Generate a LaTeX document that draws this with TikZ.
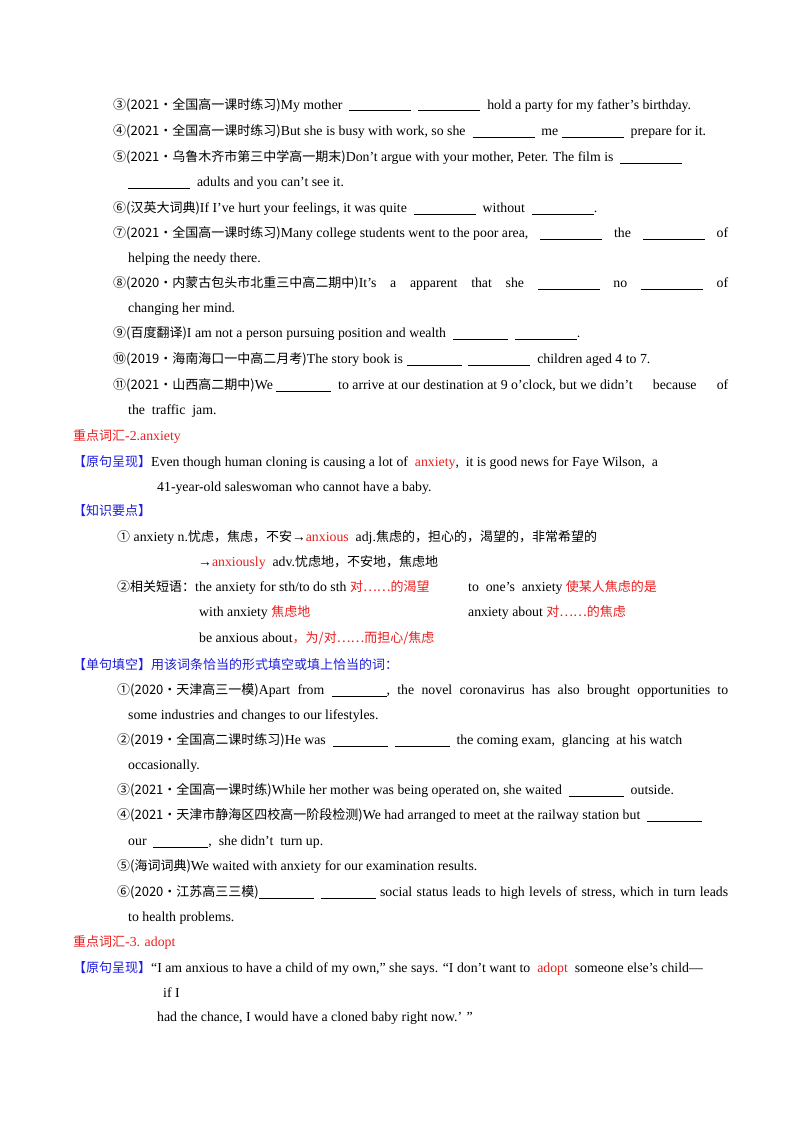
\documentclass[tikz,border=0pt]{standalone}
\usepackage{fontspec}
\setmainfont{Liberation Serif}
\newfontfamily\cjk{Noto Sans CJK SC}
\definecolor{myred}{RGB}{235,30,30}
\definecolor{myblue}{RGB}{30,30,220}
\newcommand{\bl}[1]{\rule[-2pt]{#1pt}{0.5pt}}
\newcommand{\zh}[1]{{\cjk\fontsize{13}{15}\selectfont #1}}
\newcommand{\rd}[1]{\textcolor{myred}{#1}}
\tikzset{ln/.style={anchor=base west,inner sep=0pt,font=\fontsize{13.8}{15}\selectfont}}
\begin{document}
\begin{tikzpicture}[x=1pt,y=-1pt]
\useasboundingbox[fill=white] (0,0) rectangle (800,1132);
\node[ln] (l1) at (113,109) {\zh{③(2021·全国高一课时练习)}My mother \ \bl{62}\ \ \bl{62}\ \ hold a party for my father’s birthday.};
\node[ln] (l2) at (113,135) {\zh{④(2021·全国高一课时练习)}But she is busy with work, so she \ \bl{62}\ \ me \bl{62}\ \ prepare for it.};
\node[ln] (l3) at (113,161) {\zh{⑤(2021·乌鲁木齐市第三中学高一期末)}Don’t argue with your mother, Peter. The film is \ \bl{62}};
\node[ln] (l4) at (128,186) {\bl{62}\ \ adults and you can’t see it.};
\node[ln] (l5) at (113,212) {\zh{⑥(汉英大词典)}If I’ve hurt your feelings, it was quite \ \bl{62}\ \ without \ \bl{62}.};
\node[ln] (l6) at (113,237) {\makebox[615pt][s]{\zh{⑦(2021·全国高一课时练习)}Many college students went to the poor area,\hfill \bl{62}\hfill the\hfill \bl{62}\hfill of}};
\node[ln] (l7) at (128,262) {helping the needy there.};
\node[ln] (l8) at (113,287) {\makebox[615pt][s]{\zh{⑧(2020·内蒙古包头市北重三中高二期中)}It’s\hfill a\hfill apparent\hfill that\hfill she\hfill \bl{62}\hfill no\hfill \bl{62}\hfill of}};
\node[ln] (l9) at (128,312) {changing her mind.};
\node[ln] (l10) at (113,337) {\zh{⑨(百度翻译)}I am not a person pursuing position and wealth \ \bl{55}\ \ \bl{62}.};
\node[ln] (l11) at (113,363) {\zh{⑩(2019·海南海口一中高二月考)}The story book is \bl{55}\ \ \bl{62}\ \ children aged 4 to 7.};
\node[ln] (l12) at (113,389) {\makebox[615pt][s]{\zh{⑪(2021·山西高二期中)}We \bl{55}\ \ to arrive at our destination at 9 o’clock, but we didn’t\hfill because\hfill of}};
\node[ln] (l13) at (128,414) {the\ \ traffic\ \ jam.};
\node[ln,text=myred] (h2) at (73,440) {\zh{重点词汇}-2.anxiety};
\node[ln] (l14) at (73,466) {\textcolor{myblue}{\zh{【原句呈现】}}Even though human cloning is causing a lot of \ \rd{anxiety}, \ it is good news for Faye Wilson, \ a};
\node[ln] (l15) at (157,491) {41-year-old saleswoman who cannot have a baby.};
\node[ln,text=myblue] (l16) at (73,515) {\zh{【知识要点】}};
\node[ln] (l17) at (117,541) {\zh{①} anxiety n.\zh{忧虑，焦虑，不安}→\rd{anxious}\ \ adj.\zh{焦虑的，担心的，渴望的，非常希望的}};
\node[ln] (l18) at (198,566) {→\rd{anxiously}\ \ adv.\zh{忧虑地，不安地，焦虑地}};
\node[ln] (l19) at (117,591) {\zh{②相关短语：}the anxiety for sth/to do sth \rd{\zh{对……的渴望}}};
\node[ln] (l19b) at (468,591) {to\ \ one’s\ \ anxiety \rd{\zh{使某人焦虑的是}}};
\node[ln] (l20) at (199,616) {with anxiety \rd{\zh{焦虑地}}};
\node[ln] (l20b) at (468,616) {anxiety about \rd{\zh{对……的焦虑}}};
\node[ln] (l21) at (199,642) {be anxious about\rd{\zh{，为/对……而担心/焦虑}}};
\node[ln,text=myblue] (h3) at (73,669) {\zh{【单句填空】用该词条恰当的形式填空或填上恰当的词：}};
\node[ln] (m1) at (117,694) {\makebox[611pt][s]{\zh{①(2020·天津高三一模)}Apart\hfill from\hfill \bl{55},\hfill the\hfill novel\hfill coronavirus\hfill has\hfill also\hfill brought\hfill opportunities\hfill to}};
\node[ln] (m2) at (128,719) {some industries and changes to our lifestyles.};
\node[ln] (m3) at (117,744) {\zh{②(2019·全国高二课时练习)}He was \ \bl{55}\ \ \bl{55}\ \ the coming exam, \ glancing \ at his watch};
\node[ln] (m4) at (128,769) {occasionally.};
\node[ln] (m5) at (117,794) {\zh{③(2021·全国高一课时练)}While her mother was being operated on, she waited \ \bl{55}\ \ outside.};
\node[ln] (m6) at (117,819) {\zh{④(2021·天津市静海区四校高一阶段检测)}We had arranged to meet at the railway station but \ \bl{55}};
\node[ln] (m7) at (128,845) {our \ \bl{55}, \ she didn’t \ turn up.};
\node[ln] (m8) at (117,870) {\zh{⑤(海词词典)}We waited with anxiety for our examination results.};
\node[ln] (m9) at (117,896) {\makebox[611pt][s]{\zh{⑥(2020·江苏高三三模)}\bl{55}\ \ \bl{55}\hfill social\hfill status\hfill leads\hfill to\hfill high\hfill levels\hfill of\hfill stress,\hfill which\hfill in\hfill turn\hfill leads}};
\node[ln] (m10) at (128,921) {to health problems.};
\node[ln,text=myred] (h4) at (73,946) {\zh{重点词汇}-3. adopt};
\node[ln] (n1) at (73,972) {\textcolor{myblue}{\zh{【原句呈现】}}“I am anxious to have a child of my own,” she says. “I don’t want to \ \rd{adopt}\ \ someone else’s child—};
\node[ln] (n2) at (163,997) {if I};
\node[ln] (n3) at (157,1021) {had the chance, I would have a cloned baby right now.’ ”};
\end{tikzpicture}
\end{document}
